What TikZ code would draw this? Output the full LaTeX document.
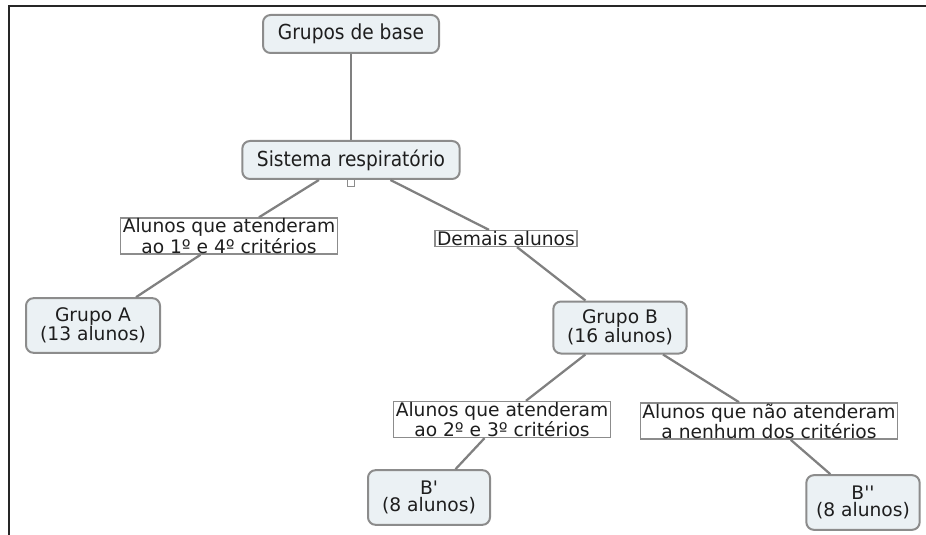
\documentclass[tikz,border=0pt]{standalone}
\usepackage{fontspec}
\setmainfont{DejaVu Sans}
\newfontfamily\condfont[FakeStretch=0.9]{DejaVu Sans}
\usetikzlibrary{positioning}

\definecolor{boxfill}{HTML}{EBF1F4}
\definecolor{boxdraw}{HTML}{8C8C8C}
\definecolor{linkgray}{HTML}{808080}
\definecolor{inkgray}{HTML}{1E1E1E}

\begin{document}
\begin{tikzpicture}[
    x=0.75pt, y=-0.75pt,
    % Styles
    concept/.style={
        rectangle,
        fill=boxfill,
        draw=boxdraw,
        rounded corners=2mm,
        line width=1.5pt,
        align=center,
        text=inkgray,
        font=\fontsize{14}{12.8}\selectfont,
        inner sep=0pt,
        minimum height=41pt
    },
    topconcept/.style={
        concept,
        font=\condfont\fontsize{15.5}{15}\selectfont,
        minimum height=28.5pt
    },
    linkbox/.style={
        rectangle,
        fill=white,
        draw=boxdraw,
        line width=1.1pt,
        align=center,
        text=inkgray,
        font=\fontsize{14}{12.5}\selectfont,
        inner xsep=1.5pt,
        inner ysep=0.5pt
    },
    handle/.style={
        rectangle,
        fill=white,
        draw=boxdraw,
        line width=0.9pt,
        inner sep=0pt,
        minimum width=5.5pt,
        minimum height=5pt
    },
    link/.style={
        draw=linkgray,
        line width=1.7pt
    },
    frame/.style={
        draw=black!85,
        line width=1.5pt
    }
]
    \useasboundingbox (0,0) rectangle (926,535);

    % Frame
    \draw[frame] (9,535) |- (926,6);

    % Concepts
    \node[topconcept, minimum width=132pt] (base) at (351,34) {Grupos de base};
    \node[topconcept, minimum width=163pt] (sistema) at (351,160) {Sistema respiratório};
    \node[handle, below=-0.75pt of sistema] (stub) {};
    \node[concept, minimum width=100.5pt] (grupoA) at (93,325.5) {Grupo A\\(13 alunos)};
    \node[concept, minimum width=100pt, minimum height=39pt] (grupoB) at (620,327.5) {Grupo B\\(16 alunos)};
    \node[concept, minimum width=91.5pt] (bprime) at (429,497.5) {B\textquotesingle\\(8 alunos)};
    \node[concept, minimum width=85pt] (bsecond) at (863,502.5) {B\textquotesingle\textquotesingle\\(8 alunos)};

    % Link phrases
    \node[linkbox] (crit14) at (229,236) {Alunos que atenderam\\ao 1º e 4º critérios};
    \node[linkbox] (demais) at (506,238.5) {Demais alunos};
    \node[linkbox] (crit23) at (502,419.5) {Alunos que atenderam\\ao 2º e 3º critérios};
    \node[linkbox] (nenhum) at (769,421) {Alunos que não atenderam\\a nenhum dos critérios};

    % Paths
    \draw[link] (base) -- (sistema);
    \draw[link] (sistema) -- (crit14);
    \draw[link] (crit14) -- (grupoA);
    \draw[link] (sistema) -- (demais);
    \draw[link] (demais) -- (grupoB);
    \draw[link] (grupoB) -- (crit23);
    \draw[link] (crit23) -- (bprime);
    \draw[link] (grupoB) -- (nenhum);
    \draw[link] (nenhum) -- (bsecond);
\end{tikzpicture}
\end{document}
